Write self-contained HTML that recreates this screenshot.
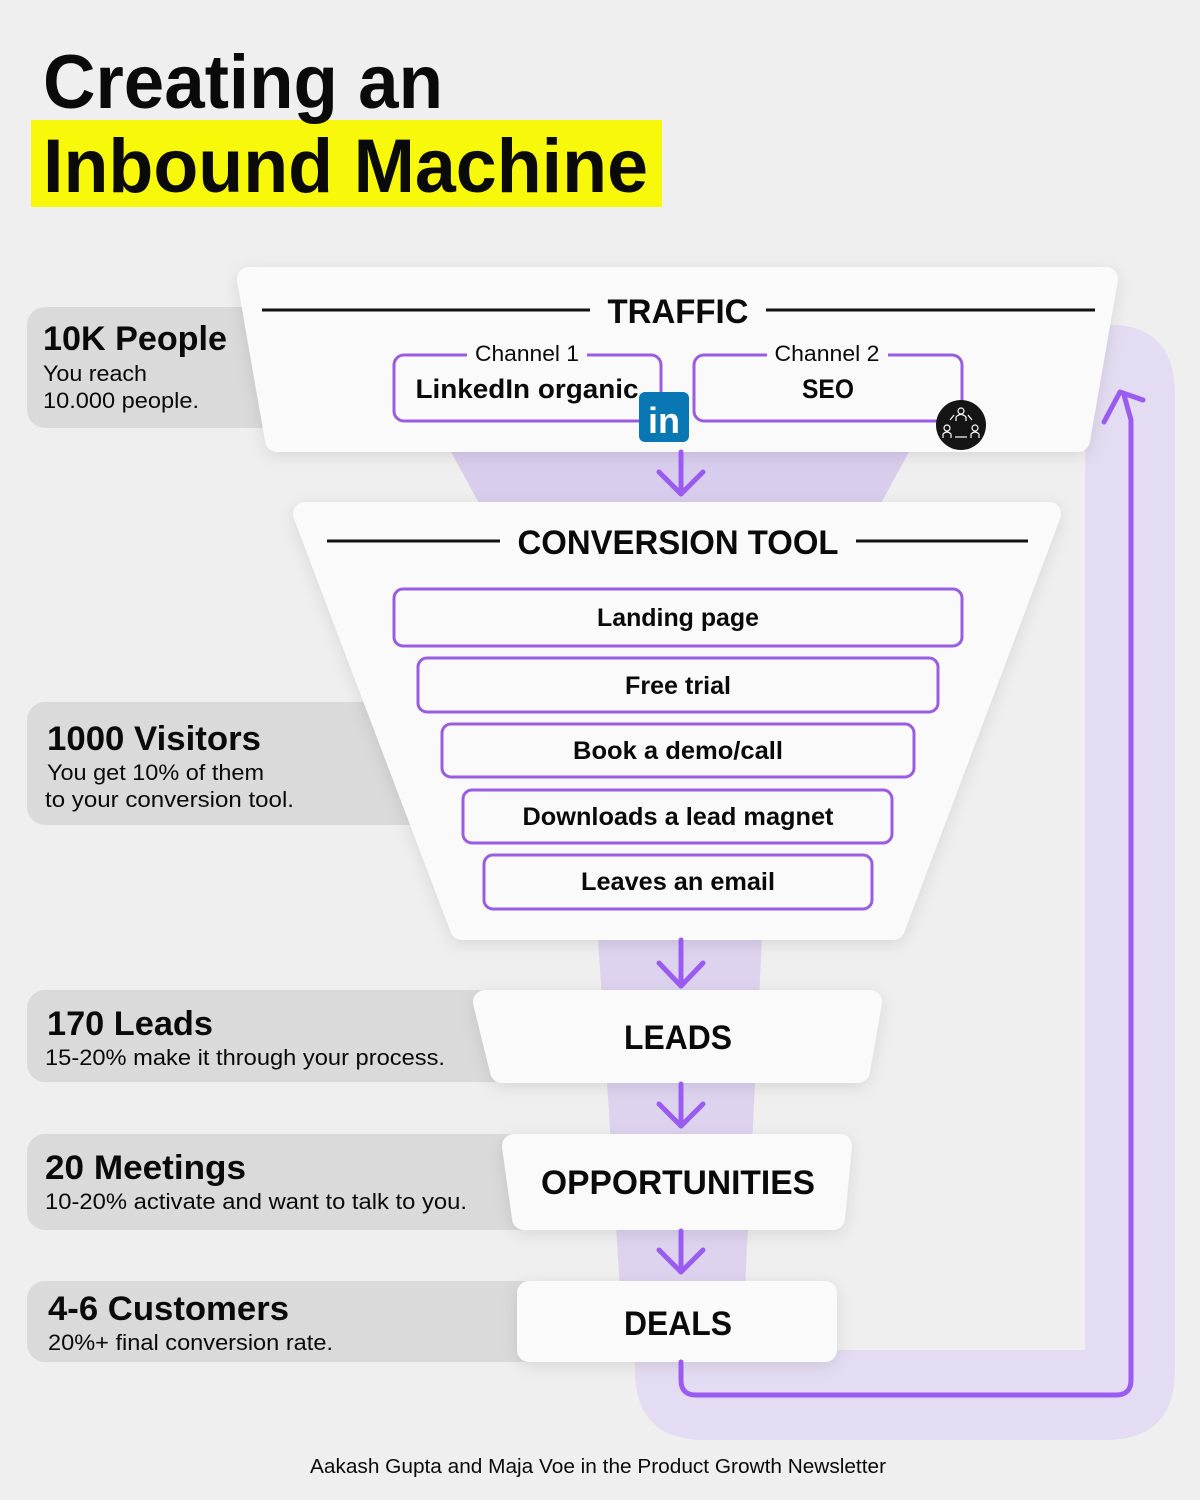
<!DOCTYPE html>
<html><head><meta charset="utf-8"><style>
html,body{margin:0;padding:0;background:#efefef;}
svg{display:block;}
text{font-family:"Liberation Sans",sans-serif;fill:#0a0a0a;}
</style></head><body>
<svg width="1200" height="1500" viewBox="0 0 1200 1500" xmlns="http://www.w3.org/2000/svg">
<defs>
<filter id="sh" x="-10%" y="-10%" width="120%" height="130%"><feDropShadow dx="0" dy="4" stdDeviation="8" flood-color="#000" flood-opacity="0.10"/></filter>
</defs>
<rect width="1200" height="1500" fill="#efefef"/>
<rect x="31" y="120" width="631" height="87" fill="#f8f80a"/>
<text x="43" y="108" font-size="76" font-weight="bold" textLength="400" lengthAdjust="spacingAndGlyphs">Creating an</text>
<text x="43" y="192" font-size="76" font-weight="bold" textLength="605" lengthAdjust="spacingAndGlyphs">Inbound Machine</text>

<path d="M1110 325 Q1175 325 1175 395 L1175 1370 Q1175 1440 1105 1440 L705 1440 Q635 1440 635 1370 L635 1350 L1085 1350 L1085 395 Z" fill="#e4dcf2"/>
<polygon points="450,450 910,450 880,505 480,505" fill="#d9cdee"/>
<polygon points="598,938 762,938 745,1290 620,1290" fill="#ddd3ef"/>
<rect x="620" y="1280" width="100" height="80" fill="#ddd3ef"/>

<rect x="27" y="307" width="280" height="121" rx="18" fill="#dadada"/>
<rect x="27" y="702" width="420" height="123" rx="18" fill="#dadada"/>
<rect x="27" y="990" width="500" height="92" rx="18" fill="#dadada"/>
<rect x="27" y="1134" width="520" height="96" rx="18" fill="#dadada"/>
<rect x="27" y="1281" width="530" height="81" rx="18" fill="#dadada"/>

<g fill="#fafafa" filter="url(#sh)" stroke="#fafafa" stroke-width="24" stroke-linejoin="round">
<polygon points="249,279 1106,279 1078,440 277,440"/>
<polygon points="305,514 1049,514 893,928 462,928"/>
<polygon points="485,1002 870,1002 858,1071 502,1071"/>
<polygon points="514,1146 840,1146 833,1218 524,1218"/>
<rect x="529" y="1293" width="296" height="57"/>
</g>

<line x1="262" y1="310" x2="590" y2="310" stroke="#111" stroke-width="3"/>
<line x1="766" y1="310" x2="1095" y2="310" stroke="#111" stroke-width="3"/>
<text x="678" y="323" font-size="34" font-weight="bold" text-anchor="middle" textLength="141" lengthAdjust="spacingAndGlyphs">TRAFFIC</text>
<rect x="394" y="355" width="267" height="66" rx="10" fill="#fafafa" stroke="#9a5ce0" stroke-width="3"/>
<rect x="694" y="355" width="268" height="66" rx="10" fill="#fafafa" stroke="#9a5ce0" stroke-width="3"/>
<rect x="467" y="345" width="120" height="20" fill="#fafafa"/>
<rect x="767" y="345" width="121" height="20" fill="#fafafa"/>
<text x="527" y="361" font-size="22" text-anchor="middle" textLength="104" lengthAdjust="spacingAndGlyphs">Channel 1</text>
<text x="827" y="361" font-size="22" text-anchor="middle" textLength="105" lengthAdjust="spacingAndGlyphs">Channel 2</text>
<text x="527" y="398" font-size="27" font-weight="bold" text-anchor="middle" textLength="223" lengthAdjust="spacingAndGlyphs">LinkedIn organic</text>
<text x="828" y="398" font-size="27" font-weight="bold" text-anchor="middle" textLength="52" lengthAdjust="spacingAndGlyphs">SEO</text>
<rect x="639" y="392" width="50" height="50" rx="6" fill="#0a77b5"/>
<text x="664" y="433" font-size="36" font-weight="bold" text-anchor="middle" style="fill:#fff">in</text>
<circle cx="961" cy="425" r="25" fill="#151515"/>
<g stroke="#fff" stroke-width="1.2" fill="none">
<circle cx="961" cy="411" r="3"/><path d="M956 421 v-4 q5-5 10 0 v4"/>
<circle cx="947" cy="428" r="3"/><path d="M943 438 v-4 q4-4 8 0 v4"/>
<circle cx="975" cy="428" r="3"/><path d="M971 438 v-4 q4-4 8 0 v4"/>
<path d="M955 437 h12"/><path d="M950 420 l4-5"/><path d="M972 420 l-4-5"/>
</g>

<g stroke="#9a5cf0" stroke-width="5" fill="none" stroke-linecap="round" stroke-linejoin="round">
<line x1="681" y1="452" x2="681" y2="494"/><polyline points="659,472 681,494 703,472"/>
<line x1="681" y1="940" x2="681" y2="986"/><polyline points="659,963 681,986 703,963"/>
<line x1="681" y1="1084" x2="681" y2="1126"/><polyline points="659,1104 681,1126 703,1104"/>
<line x1="681" y1="1231" x2="681" y2="1272"/><polyline points="659,1250 681,1272 703,1250"/>
<path d="M681 1362 L681 1380 Q681 1395 696 1395 L1116 1395 Q1131 1395 1131 1380 L1131 420 L1124 395"/>
<polyline points="1104,422 1120,392 1143,400"/>
</g>

<line x1="327" y1="541" x2="500" y2="541" stroke="#111" stroke-width="3"/>
<line x1="856" y1="541" x2="1028" y2="541" stroke="#111" stroke-width="3"/>
<text x="678" y="554" font-size="34" font-weight="bold" text-anchor="middle" textLength="321" lengthAdjust="spacingAndGlyphs">CONVERSION TOOL</text>
<g fill="#fafafa" stroke="#9a5ce0" stroke-width="3">
<rect x="394" y="589" width="568" height="57" rx="9"/>
<rect x="418" y="658" width="520" height="54" rx="9"/>
<rect x="442" y="724" width="472" height="53" rx="9"/>
<rect x="463" y="790" width="429" height="53" rx="9"/>
<rect x="484" y="855" width="388" height="54" rx="9"/>
</g>
<g font-size="25" font-weight="bold" text-anchor="middle">
<text x="678" y="626" textLength="162" lengthAdjust="spacingAndGlyphs">Landing page</text>
<text x="678" y="694" textLength="106" lengthAdjust="spacingAndGlyphs">Free trial</text>
<text x="678" y="759" textLength="210" lengthAdjust="spacingAndGlyphs">Book a demo/call</text>
<text x="678" y="825" textLength="311" lengthAdjust="spacingAndGlyphs">Downloads a lead magnet</text>
<text x="678" y="890" textLength="194" lengthAdjust="spacingAndGlyphs">Leaves an email</text>
</g>
<g font-size="34" font-weight="bold" text-anchor="middle">
<text x="678" y="1049" textLength="108" lengthAdjust="spacingAndGlyphs">LEADS</text>
<text x="678" y="1194" textLength="274" lengthAdjust="spacingAndGlyphs">OPPORTUNITIES</text>
<text x="678" y="1335" textLength="108" lengthAdjust="spacingAndGlyphs">DEALS</text>
</g>

<text x="43" y="350" font-size="34" font-weight="bold" textLength="184" lengthAdjust="spacingAndGlyphs">10K People</text>
<text x="43" y="381" font-size="22" textLength="104" lengthAdjust="spacingAndGlyphs">You reach</text>
<text x="43" y="408" font-size="22" textLength="156" lengthAdjust="spacingAndGlyphs">10.000 people.</text>
<text x="47" y="750" font-size="34" font-weight="bold" textLength="214" lengthAdjust="spacingAndGlyphs">1000 Visitors</text>
<text x="47" y="780" font-size="22" textLength="217" lengthAdjust="spacingAndGlyphs">You get 10% of them</text>
<text x="45" y="807" font-size="22" textLength="249" lengthAdjust="spacingAndGlyphs">to your conversion tool.</text>
<text x="47" y="1035" font-size="34" font-weight="bold" textLength="166" lengthAdjust="spacingAndGlyphs">170 Leads</text>
<text x="45" y="1065" font-size="22" textLength="400" lengthAdjust="spacingAndGlyphs">15-20% make it through your process.</text>
<text x="45" y="1179" font-size="34" font-weight="bold" textLength="201" lengthAdjust="spacingAndGlyphs">20 Meetings</text>
<text x="45" y="1209" font-size="22" textLength="422" lengthAdjust="spacingAndGlyphs">10-20% activate and want to talk to you.</text>
<text x="48" y="1320" font-size="34" font-weight="bold" textLength="241" lengthAdjust="spacingAndGlyphs">4-6 Customers</text>
<text x="48" y="1350" font-size="22" textLength="285" lengthAdjust="spacingAndGlyphs">20%+ final conversion rate.</text>

<text x="598" y="1473" font-size="20" text-anchor="middle" textLength="576" lengthAdjust="spacingAndGlyphs">Aakash Gupta and Maja Voe in the Product Growth Newsletter</text>
</svg>
</body></html>
